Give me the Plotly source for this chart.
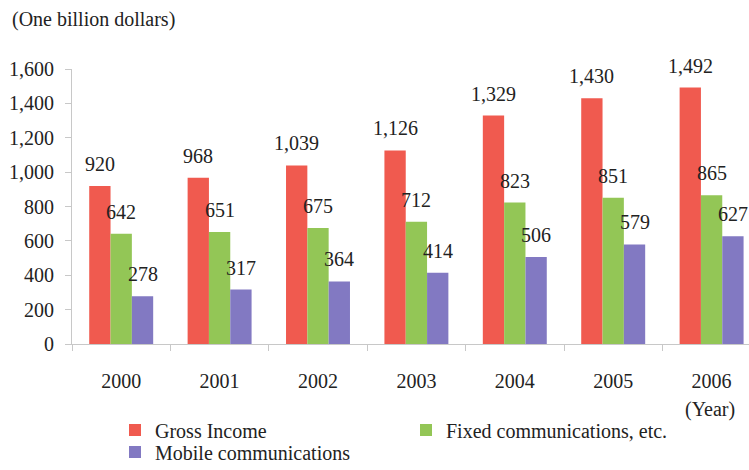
import plotly.graph_objects as go

years = ["2000", "2001", "2002", "2003", "2004", "2005", "2006"]
gross_income = [920, 968, 1039, 1126, 1329, 1430, 1492]
fixed_comm = [642, 651, 675, 712, 823, 851, 865]
mobile_comm = [278, 317, 364, 414, 506, 579, 627]

series = [
    ("Gross Income", gross_income, "#F05A4F", "legend"),
    ("Fixed communications, etc.", fixed_comm, "#93C656", "legend"),
    ("Mobile communications", mobile_comm, "#8279C2", "legend2"),
]

FONT = "Liberation Serif"
TXT = "#222222"
BARGAP = 0.35
bw = (1 - BARGAP) / 3

W, H = 749, 470
ML, MR, MT, MB = 72, 0, 69, 126
PW, PH = W - ML - MR, H - MT - MB


def px_x(px):
    return (px - ML) / PW


def px_y(py):
    return (H - MB - py) / PH


fig = go.Figure()
annotations = []
for k, (name, vals, col, leg) in enumerate(series):
    fig.add_trace(go.Bar(x=years, y=vals, name=name, legend=leg,
                         marker=dict(color=col, line=dict(width=0))))
    for i, v in enumerate(vals):
        annotations.append(dict(
            x=i + (k - 1) * bw, y=v, xref="x", yref="y",
            text=f"{v:,}", showarrow=False, yanchor="middle", yshift=22,
            font=dict(family=FONT, size=20, color=TXT),
        ))

annotations.append(dict(
    x=px_x(10), y=px_y(20), xref="paper", yref="paper",
    text="(One billion dollars)", showarrow=False, xanchor="left", yanchor="middle",
    font=dict(family=FONT, size=20, color=TXT),
))
annotations.append(dict(
    x=px_x(710), y=px_y(409), xref="paper", yref="paper",
    text="(Year)", showarrow=False, xanchor="center", yanchor="middle",
    font=dict(family=FONT, size=20, color=TXT),
))

legend_common = dict(
    orientation="h", xref="container", yref="container",
    xanchor="left", yanchor="middle",
    entrywidth=246, entrywidthmode="pixels",
    font=dict(family=FONT, size=20, color=TXT),
    tracegroupgap=0, itemwidth=30, bgcolor="rgba(0,0,0,0)",
)

cat_px = 98.4
fig.update_layout(
    width=W, height=H,
    margin=dict(l=ML, r=MR, t=MT, b=MB, autoexpand=False),
    paper_bgcolor="white", plot_bgcolor="white",
    barmode="group", bargap=BARGAP, bargroupgap=0,
    font=dict(family=FONT, size=20, color=TXT),
    annotations=annotations,
    xaxis=dict(
        type="category", range=[-0.5, -0.5 + PW / cat_px],
        showline=True, linecolor="#c8c8c8", linewidth=1,
        ticks="outside", tickson="boundaries", ticklen=6, tickcolor="#c8c8c8",
        showgrid=False, ticklabelstandoff=19,
        tickfont=dict(family=FONT, size=20, color=TXT),
    ),
    yaxis=dict(
        range=[0, 1600], dtick=200, tickformat=",d",
        showline=True, linecolor="#c8c8c8", linewidth=1,
        ticks="outside", ticklen=6, tickcolor="#c8c8c8",
        showgrid=False, zeroline=False, ticklabelstandoff=7,
        tickfont=dict(family=FONT, size=20, color=TXT),
    ),
    legend=dict(legend_common, x=115 / W, y=1 - 430 / H),
    legend2=dict(legend_common, x=115 / W, y=1 - 452 / H),
    showlegend=True,
)

fig.write_html("out.html", config={"displayModeBar": False},
               post_script="document.body.style.margin='0px';")
